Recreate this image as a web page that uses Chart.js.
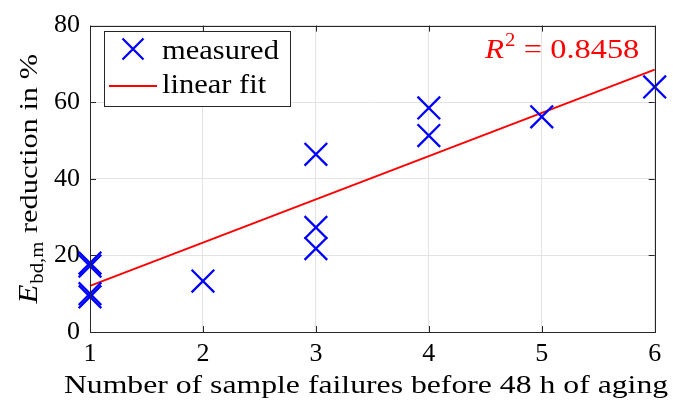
<!DOCTYPE html>
<html><head><meta charset="utf-8">
<script src="https://cdn.jsdelivr.net/npm/chart.js@4.4.1/dist/chart.umd.min.js"></script>
<style>html,body{margin:0;padding:0;background:#fff}#wrap{width:673px;height:409px}</style>
</head><body><div id="wrap"><canvas id="c" width="673" height="409"></canvas></div>
<script>
// ---- data ----
const xTickValues = [1, 2, 3, 4, 5, 6];
const yTickValues = [0, 20, 40, 60, 80];
const measuredX = [1, 1, 1, 1, 2, 3, 3, 3, 4, 4, 5, 6];
const measuredY = [17.2, 18.0, 9.2, 10.0, 13.3, 46.4, 27.3, 21.8, 58.5, 51.3, 56.2, 64.0];
const fitX = [1, 6];
const fitY = [12.05, 68.5];
const legendLabels = ['measured', 'linear fit'];
const r2Value = '0.8458';
const xTitle = 'Number of sample failures before 48 h of aging';
const yTitleMain = 'E';
const yTitleSub = 'bd,m';
const yTitleRest = ' reduction in %';

const SERIF = '"Liberation Serif", "DejaVu Serif", serif';
const AXC = '#262626';
const BLUE = '#0000ff';
const RED = '#ff0000';
const SX = 1.15; // horizontal stretch to mimic the wider LaTeX face

const measuredPts = measuredX.map((x, i) => ({x, y: measuredY[i]}));
const fitPts = fitX.map((x, i) => ({x, y: fitY[i]}));

function stretchedText(ctx, txt, x, y, font, sx, align) {
  ctx.save();
  ctx.font = font;
  const w = ctx.measureText(txt).width * sx;
  let x0 = x;
  if (align === 'center') x0 = x - w / 2;
  else if (align === 'right') x0 = x - w;
  ctx.translate(x0, y);
  ctx.scale(sx, 1);
  ctx.textAlign = 'left';
  ctx.fillText(txt, 0, 0);
  ctx.restore();
  return w;
}
function textW(ctx, txt, font, sx) { ctx.save(); ctx.font = font; const w = ctx.measureText(txt).width * sx; ctx.restore(); return w; }

const decor = {
  id: 'decor',
  afterDatasetsDraw(chart) {
    const {ctx, chartArea: a, scales} = chart;
    ctx.save();
    ctx.strokeStyle = AXC; ctx.lineWidth = 1;
    ctx.strokeRect(Math.round(a.left) + 0.5, Math.round(a.top) + 0.5, Math.round(a.right - a.left), Math.round(a.bottom - a.top));
    const tl = 6;
    ctx.beginPath();
    xTickValues.forEach(v => {
      const px = Math.round(scales.x.getPixelForValue(v)) + 0.5;
      ctx.moveTo(px, a.bottom); ctx.lineTo(px, a.bottom - tl);
      ctx.moveTo(px, a.top); ctx.lineTo(px, a.top + tl);
    });
    yTickValues.forEach(v => {
      const py = Math.round(scales.y.getPixelForValue(v)) + 0.5;
      ctx.moveTo(a.left, py); ctx.lineTo(a.left + tl, py);
      ctx.moveTo(a.right, py); ctx.lineTo(a.right - tl, py);
    });
    ctx.stroke();
    ctx.restore();
  },
  afterDraw(chart) {
    const {ctx, chartArea: a} = chart;
    ctx.save();
    ctx.textBaseline = 'alphabetic';
    // legend box
    const lx = 104, ly = 31, lw = 186, lh = 75;
    ctx.fillStyle = '#fff';
    ctx.fillRect(lx, ly, lw, lh);
    ctx.strokeStyle = AXC; ctx.lineWidth = 1;
    ctx.strokeRect(lx + 0.5, ly + 0.5, lw, lh);
    const mx = 133, my = 49, r = 10.5;
    ctx.strokeStyle = BLUE; ctx.lineWidth = 2.3;
    ctx.beginPath();
    ctx.moveTo(mx - r, my - r); ctx.lineTo(mx + r, my + r);
    ctx.moveTo(mx - r, my + r); ctx.lineTo(mx + r, my - r);
    ctx.stroke();
    ctx.strokeStyle = RED; ctx.lineWidth = 2;
    ctx.beginPath(); ctx.moveTo(109, 86); ctx.lineTo(157, 86); ctx.stroke();
    ctx.fillStyle = '#000';
    const lf = '27px ' + SERIF;
    stretchedText(ctx, legendLabels[0], 162, 59, lf, 1.13, 'left');
    stretchedText(ctx, legendLabels[1], 162, 93, lf, 1.13, 'left');

    // R^2 annotation
    ctx.fillStyle = RED;
    let x = 485; const by = 58;
    x += stretchedText(ctx, 'R', x, by, 'italic 27px ' + SERIF, SX, 'left') + 1;
    x += stretchedText(ctx, '2', x, by - 12, '18px ' + SERIF, SX, 'left');
    stretchedText(ctx, '\u2009= ' + r2Value, x + 2, by, '27px ' + SERIF, 1.2, 'left');

    // x title
    ctx.fillStyle = '#000';
    stretchedText(ctx, xTitle, 366, 393, '26px ' + SERIF, 1.22, 'center');

    // y title (rotated)
    ctx.translate(37, (a.top + a.bottom) / 2);
    ctx.rotate(-Math.PI / 2);
    const fMain = 'italic 27px ' + SERIF, fSub = '18px ' + SERIF, fRest = '26px ' + SERIF;
    const w1 = textW(ctx, yTitleMain, fMain, SX);
    const w2 = textW(ctx, yTitleSub, fSub, SX);
    const w3 = textW(ctx, yTitleRest, fRest, 1.17);
    let tx = -(w1 + w2 + w3 + 2) / 2;
    stretchedText(ctx, yTitleMain, tx, 0, fMain, SX, 'left'); tx += w1 + 1;
    stretchedText(ctx, yTitleSub, tx, 6, fSub, SX, 'left'); tx += w2 + 1;
    stretchedText(ctx, yTitleRest, tx, 0, fRest, 1.17, 'left');
    ctx.restore();
  }
};

new Chart(document.getElementById('c'), {
  type: 'scatter',
  data: {
    datasets: [
      {
        label: legendLabels[0], data: measuredPts, showLine: false,
        pointStyle: 'crossRot', radius: 16, hoverRadius: 16,
        borderColor: BLUE, backgroundColor: BLUE, borderWidth: 2.3, clip: false
      },
      {
        label: legendLabels[1], type: 'line', data: fitPts, showLine: true,
        borderColor: RED, borderWidth: 2, pointRadius: 0, fill: false, clip: false
      }
    ]
  },
  options: {
    responsive: false, animation: false, devicePixelRatio: 1,
    layout: {padding: {left: 0, top: 18, right: 18, bottom: 0}},
    plugins: {legend: {display: false}, tooltip: {enabled: false}},
    scales: {
      x: {
        type: 'linear', min: 1, max: 6,
        afterBuildTicks(s) { s.ticks = xTickValues.map(v => ({value: v})); },
        afterFit(s) { s.height = 77; },
        grid: {color: '#e3e3e3', drawTicks: false, lineWidth: 1},
        border: {display: false},
        ticks: {font: {family: SERIF, size: 26}, color: '#000', padding: 7, maxRotation: 0}
      },
      y: {
        min: 0, max: 80,
        afterBuildTicks(s) { s.ticks = yTickValues.map(v => ({value: v})); },
        afterFit(s) { s.width = 90; },
        grid: {color: '#e3e3e3', drawTicks: false, lineWidth: 1},
        border: {display: false},
        ticks: {font: {family: SERIF, size: 26}, color: '#000', padding: 10}
      }
    }
  },
  plugins: [decor]
});
</script>
</body></html>
